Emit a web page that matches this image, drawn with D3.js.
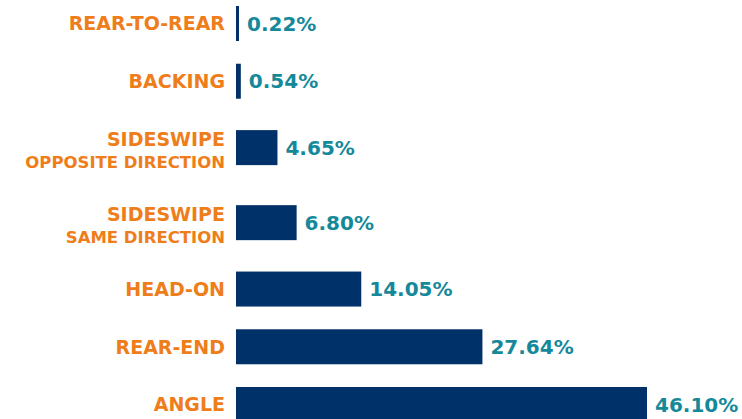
<!DOCTYPE html>
<html>
<head>
<meta charset="utf-8">
<script src="https://cdn.jsdelivr.net/npm/d3@7"></script>
<style>
  body { margin: 0; background: #fff; }
  svg { display: block; }
</style>
</head>
<body>
<div id="chart"></div>
<script>
const w = 742;
const h = 419;

// data
const mainLabels = ["REAR-TO-REAR", "BACKING", "SIDESWIPE", "SIDESWIPE", "HEAD-ON", "REAR-END", "ANGLE"];
const subLabels = ["", "", "OPPOSITE DIRECTION", "SAME DIRECTION", "", "", ""];
const shares = [0.22, 0.54, 4.65, 6.80, 14.05, 27.64, 46.10];

const navy = "#003169";
const teal = "#15899a";
const orange = "#ee7d1a";
const font = "'DejaVu Sans', sans-serif";

const rows = mainLabels.map((m, i) => ({ main: m, sub: subLabels[i], value: shares[i] }));

// rows with a second label line get a bit more room
const units = rows.map((d) => (d.sub ? 1.3 : 1));
const starts = d3.cumsum([0].concat(units));
const centerUnit = (i) => starts[i] + units[i] / 2;

const y = d3.scaleLinear()
  .domain([centerUnit(0), centerUnit(rows.length - 1)])
  .range([23.5, 404.5]);

const x0 = 236;
const x = d3.scaleLinear()
  .domain([0, 46.10])
  .range([0, 411]);

const barH = 35;
const barW = (d) => Math.max(3, x(d.value));

const svg = d3.select("#chart")
  .append("svg")
  .attr("width", w)
  .attr("height", h);

const g = svg.selectAll("g.row")
  .data(rows)
  .enter()
  .append("g")
  .attr("class", "row")
  .attr("transform", (d, i) => `translate(0,${y(centerUnit(i))})`);

g.append("rect")
  .attr("x", x0)
  .attr("y", -barH / 2)
  .attr("width", barW)
  .attr("height", barH)
  .attr("fill", navy);

g.append("text")
  .text((d) => d.value.toFixed(2) + "%")
  .attr("x", (d) => x0 + barW(d) + 8)
  .attr("y", 0)
  .attr("dy", "0.36em")
  .attr("fill", teal)
  .attr("font-family", font)
  .attr("font-weight", "bold")
  .attr("font-size", "20px");

g.append("text")
  .text((d) => d.main)
  .attr("text-anchor", "end")
  .attr("x", 225)
  .attr("y", (d) => (d.sub ? -8.5 : 0))
  .attr("dy", "0.36em")
  .attr("fill", orange)
  .attr("font-family", font)
  .attr("font-weight", "bold")
  .attr("font-size", "19px");

g.filter((d) => d.sub)
  .append("text")
  .text((d) => d.sub)
  .attr("text-anchor", "end")
  .attr("x", 225)
  .attr("y", 14)
  .attr("dy", "0.36em")
  .attr("fill", orange)
  .attr("font-family", font)
  .attr("font-weight", "bold")
  .attr("font-size", "16.5px");
</script>
</body>
</html>
